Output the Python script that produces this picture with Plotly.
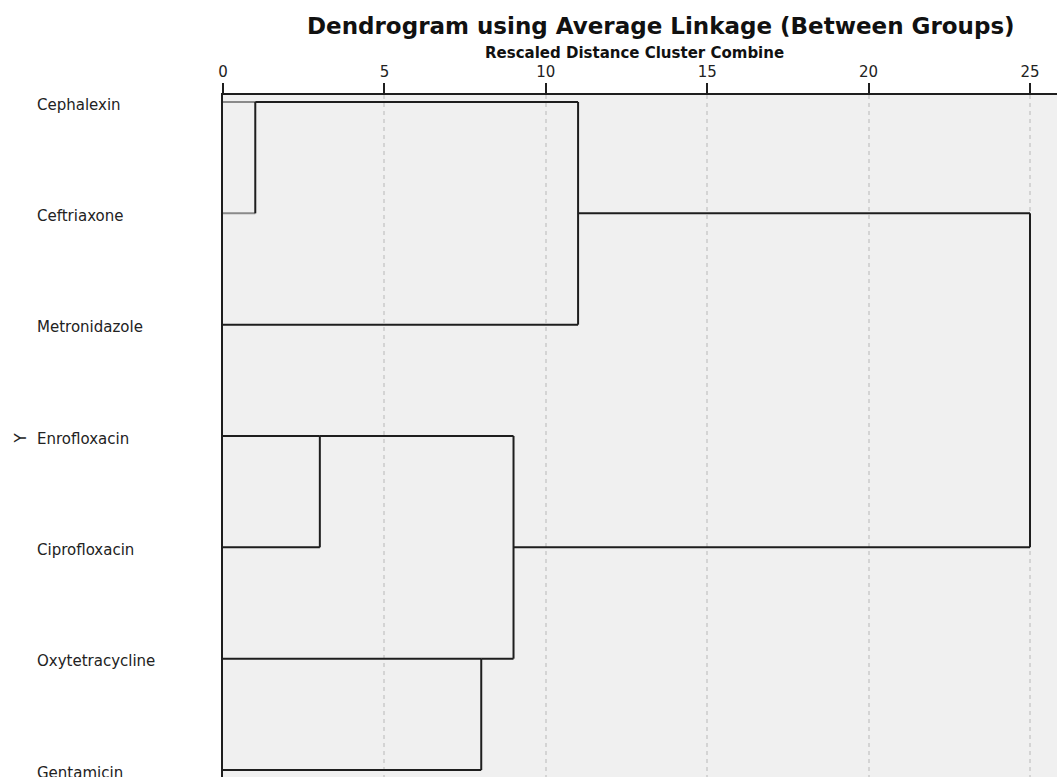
import plotly.graph_objects as go
import math

labels = ["Cephalexin", "Ceftriaxone", "Metronidazole", "Enrofloxacin",
          "Ciprofloxacin", "Oxytetracycline", "Gentamicin"]
# merges: (child_a, child_b, rescaled distance); children >= len(labels) refer to earlier merges
merges = [
    (0, 1, 1),
    (3, 4, 3),
    (5, 6, 8),
    (8, 9, 9),
    (7, 2, 11),
    (11, 10, 25),
]
x_ticks = [0, 5, 10, 15, 20, 25]

FONT = "DejaVu Sans, Verdana, sans-serif"
DARK = "#1e1e1e"
GRAY = "#8a8a8a"

n = len(labels)
pos = {i: i for i in range(n)}
hgt = {i: 0 for i in range(n)}
segs = []  # (x0, y0, x1, y1, color)
for k, (a, b, d) in enumerate(merges):
    col_a = GRAY if (k == 0 and a < n) else DARK
    col_b = GRAY if (k == 0 and b < n) else DARK
    segs.append((hgt[a], pos[a], d, pos[a], col_a))
    segs.append((hgt[b], pos[b], d, pos[b], col_b))
    segs.append((d, pos[a], d, pos[b], DARK))
    nid = n + k
    pos[nid] = math.floor((pos[a] + pos[b]) / 2)
    hgt[nid] = d

fig = go.Figure()
for color in (GRAY, DARK):
    xs, ys = [], []
    for x0, y0, x1, y1, c in segs:
        if c == color:
            xs += [x0, x1, None]
            ys += [y0, y1, None]
    fig.add_trace(go.Scatter(x=xs, y=ys, mode="lines",
                             line=dict(color=color, width=2),
                             hoverinfo="skip", showlegend=False))

W, H = 1057, 777
ml, mt = 223, 95
pw = W - ml
ph = H - mt
px_per_unit_x = (1030 - 223) / 25.0
xmax = pw / px_per_unit_x
row_px = (770 - 102) / 6.0
ytop = -(102 - mt) / row_px
ybot = 6 + (777 - 770) / row_px
label_shift = 2.5 / row_px

annotations = []
for i, lab in enumerate(labels):
    annotations.append(dict(text=lab, xref="paper", yref="y",
                            x=(35 - ml) / pw, y=i + label_shift, xanchor="left", yanchor="middle",
                            showarrow=False, font=dict(family=FONT, size=15, color="#222")))
annotations.append(dict(text="Y", xref="paper", yref="y", x=(20 - ml) / pw, y=3 + label_shift,
                        xanchor="center", yanchor="middle", textangle=-90,
                        showarrow=False, font=dict(family=FONT, size=15, color="#222")))
annotations.append(dict(text="<b>Dendrogram using Average Linkage (Between Groups)</b>",
                        xref="paper", yref="paper", x=(661 - ml) / pw, y=1 + (mt - 26) / ph,
                        xanchor="center", yanchor="middle", showarrow=False,
                        font=dict(family=FONT, size=23, color="#111")))
annotations.append(dict(text="<b>Rescaled Distance Cluster Combine</b>",
                        xref="paper", yref="paper", x=(634 - ml) / pw, y=1 + (mt - 53) / ph,
                        xanchor="center", yanchor="middle", showarrow=False,
                        font=dict(family=FONT, size=15, color="#111")))

fig.update_layout(
    width=W, height=H,
    margin=dict(l=ml, r=0, t=mt, b=0, pad=0),
    paper_bgcolor="white", plot_bgcolor="#f0f0f0",
    annotations=annotations,
    xaxis=dict(side="top", range=[0, xmax], tickvals=x_ticks,
               ticktext=[str(t) for t in x_ticks],
               ticks="outside", ticklen=10, tickwidth=2, tickcolor=DARK,
               showline=True, linecolor=DARK, linewidth=2,
               showgrid=True, gridcolor="#d4d4d4", gridwidth=2, griddash="4px,4px",
               zeroline=False, tickfont=dict(family=FONT, size=15, color="#222")),
    yaxis=dict(range=[ybot, ytop], showticklabels=False, ticks="",
               showgrid=False, zeroline=False,
               showline=True, linecolor=DARK, linewidth=2),
)
fig.write_html("out.html", post_script="document.body.style.margin='0';",
               config={"displayModeBar": False})
